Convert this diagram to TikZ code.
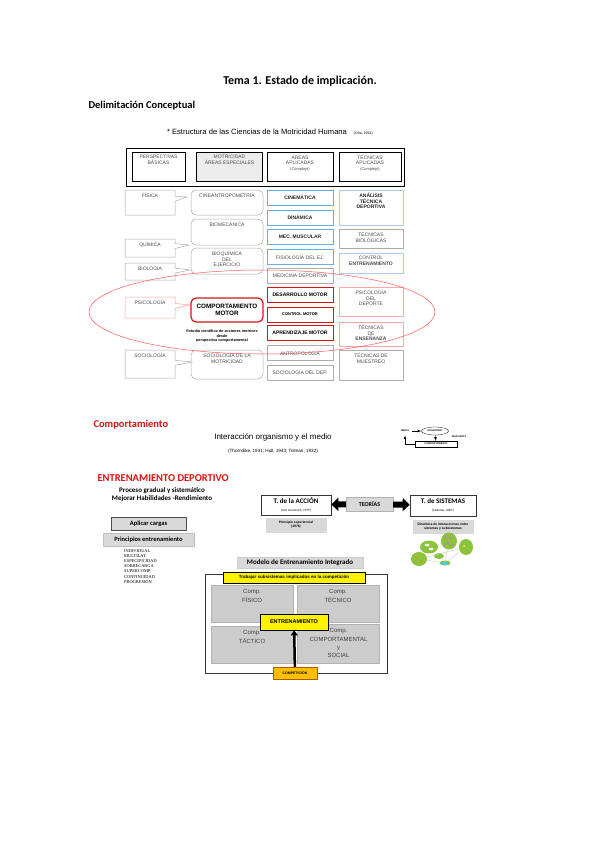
\documentclass[tikz,border=0pt]{standalone}
\usepackage{fontspec}
\setmainfont{Carlito}
\newfontfamily\arialf{Liberation Sans}
\newfontfamily\timesf{Liberation Serif}
\usepackage{tikz}
\usetikzlibrary{shapes,arrows,arrows.meta,positioning,calc}
\newcommand\celltxt{\arialf\fontsize{5}{5.8}\selectfont}
\newcommand\minitxt{\arialf\bfseries\fontsize{2.4}{3}\selectfont}
\definecolor{celeste}{RGB}{110,170,220}
\definecolor{rojo}{RGB}{215,20,20}
\definecolor{verde}{RGB}{140,195,60}
\definecolor{naranja}{RGB}{255,190,0}

\begin{document}
\begin{tikzpicture}[x=1pt, y=-1pt,
  cell/.style={draw=gray!65, line width=0.5pt, inner sep=0pt, font=\celltxt, text=black!70, align=center},
  topl/.style={label={[anchor=north, inner sep=0pt, yshift=-3pt, font=\celltxt, text=black!70, align=center]north:#1}},
  toplb/.style={label={[anchor=north, inner sep=0pt, yshift=-3pt, font=\celltxt\bfseries, text=black!85, align=center]north:#1}},
  qlab/.style={label={[anchor=north, inner sep=0pt, yshift=-5pt, font=\arialf\fontsize{6}{8.3}\selectfont, text=black!75, align=center]north:#1}},
  head/.style={draw=black, line width=0.7pt, inner sep=0pt, minimum height=29pt},
  persp/.style={rectangle callout, draw=gray!65, line width=0.5pt, inner sep=0pt, minimum width=50pt, callout pointer width=5pt},
  motr/.style={cell, rounded corners=5pt, minimum width=72pt},
  area/.style={cell, minimum width=66pt, minimum height=15pt},
  tec/.style={cell, minimum width=64pt},
  azul/.style={draw=celeste},
  roja/.style={draw=rojo, line width=0.8pt, text=black, font=\celltxt\bfseries},
  rosa/.style={draw=red!35},
  gris/.style={fill=gray!30, inner sep=0pt, align=center},
  teoria/.style={draw=black!80, line width=0.7pt, minimum height=20pt, inner sep=0pt, align=center, font=\bfseries\fontsize{7}{8}\selectfont},
  nota/.style={gris, minimum width=61pt, minimum height=14pt, font=\arialf\bfseries\fontsize{3.3}{4}\selectfont},
  blob/.style={ellipse, fill=verde, inner sep=0pt},
  quad/.style={fill=gray!40, draw=gray!60, line width=0.8pt, inner sep=0pt, minimum width=82pt},
  tit/.style={font=\bfseries\fontsize{10.5}{12}\selectfont, text=rojo}
]
\fill[white] (0,0) rectangle (599,848);
\useasboundingbox (0,0) rectangle (599,848);

% encabezados
\node[font=\bfseries\fontsize{12}{14}\selectfont] (tema) at (300,81) {Tema 1. Estado de implicación.};
\node[font=\bfseries\fontsize{10.5}{12}\selectfont, anchor=west] (delim) at (85,106) {Delimitación Conceptual};
\node[font=\arialf\fontsize{7.6}{9}\selectfont] (estr) at (257,132) {* Estructura de las Ciencias de la Motricidad Humana};
\node[font=\arialf\fontsize{3.5}{4}\selectfont, anchor=base west] (ona) at (estr.base east) {(Oña, 1994)};

% cabecera de la tabla
\node[draw, line width=0.9pt, minimum width=278pt, minimum height=38pt, inner sep=0pt] (cabecera) at (265,167) {};
\node[head, minimum width=53pt, topl={PERSPECTIVAS\\BÁSICAS}] (hpersp) at (158.5,166.5) {};
\node[head, fill=gray!15, minimum width=66pt, topl={MOTRICIDAD\\ÁREAS ESPECIALES}] (hmotr) at (229.5,166.5) {};
\node[head, minimum width=66pt, topl={ÁREAS\\APLICADAS\\{\fontsize{4}{5}\selectfont(Complejo)}}] (harea) at (300,166.5) {};
\node[head, minimum width=62pt, topl={TÉCNICAS\\APLICADAS\\{\fontsize{4}{5}\selectfont(Complejo)}}] (htec) at (370,166.5) {};

% perspectivas
\node[persp, minimum height=25pt, callout absolute pointer={(187,197)}, topl={FÍSICA}] (pfis) at (150,202.5) {};
\node[persp, minimum height=18pt, callout absolute pointer={(189,245)}, topl={QUÍMICA}] (pqui) at (150,248) {};
\node[persp, minimum height=17pt, callout absolute pointer={(190,270)}, topl={BIOLOGÍA}] (pbio) at (150,271.5) {};
\node[persp, draw=red!40, minimum height=21pt, callout absolute pointer={(190,305)}, topl={PSICOLOGÍA}] (ppsi) at (150,307.5) {};
\node[persp, minimum height=28pt, callout absolute pointer={(192,362)}, topl={SOCIOLOGÍA}] (psoc) at (150,364) {};

% motricidad
\node[motr, minimum height=25pt, topl={CINEANTROPOMETRÍA}] (cine) at (227,202.5) {};
\node[motr, minimum height=26pt, topl={BIOMECÁNICA}] (biomec) at (227,232) {};
\node[motr, minimum height=26pt, topl={BIOQUÍMICA\\DEL\\EJERCICIO}] (bioq) at (227,261) {};
\node[motr, roja, line width=1.2pt, minimum height=24pt, font=\arialf\bfseries\fontsize{6.3}{7.3}\selectfont] (compmot) at (227,310) {COMPORTAMIENTO\\MOTOR};
\node[font=\arialf\bfseries\fontsize{3.8}{4.6}\selectfont, align=center] (defcomp) at (222,336) {Estudio científico de acciones motrices\\desde\\perspectiva comportamental};
\node[motr, minimum height=29pt, topl={SOCIOLOGÍA DE LA\\MOTRICIDAD}] (socmot) at (227,364.5) {};

% areas aplicadas
\node[area, azul, font=\celltxt\bfseries, text=black!85] (cinem) at (300,197.5) {CINEMÁTICA};
\node[area, azul, font=\celltxt\bfseries, text=black!85] (dinam) at (300,217.5) {DINÁMICA};
\node[area, azul, font=\celltxt\bfseries, text=black!85] (mecmus) at (300,237) {MEC. MUSCULAR};
\node[area, azul] (fisio) at (300,257) {FISIOLOGÍA DEL EJ.};
\node[area] (medic) at (300,275.5) {MEDICINA DEPORTIVA};
\node[area, roja] (desarr) at (300,294.5) {DESARROLLO MOTOR};
\node[area, roja, font=\arialf\bfseries\fontsize{4}{5}\selectfont] (ctrlmot) at (300,314.5) {CONTROL MOTOR};
\node[area, roja] (aprend) at (300,332.5) {APRENDIZAJE MOTOR};
\node[area] (antrop) at (300,353) {ANTROPOLOGÍA};
\node[area] (socdep) at (300,372.5) {SOCIOLOGÍA DEL DEP.};

% tecnicas aplicadas
\node[tec, draw=celeste!60, minimum height=35pt, toplb={ANÁLISIS\\TÉCNICA\\DEPORTIVA}] (tanal) at (371,207.5) {};
\node[tec, minimum height=19pt, topl={TÉCNICAS\\BIOLÓGICAS}] (tbio) at (371,238.5) {};
\node[tec, draw=celeste!60, minimum height=20pt, topl={CONTROL\\{\bfseries ENTRENAMIENTO}}] (tctrl) at (371,263) {};
\node[tec, rosa, minimum height=29pt, topl={PSICOLOGÍA\\DEL\\DEPORTE}] (tpsi) at (371,301.5) {};
\node[tec, rosa, minimum height=24pt, topl={TÉCNICAS\\DE\\{\bfseries ENSEÑANZA}}] (tens) at (371,334) {};
\node[tec, minimum height=30pt, topl={TÉCNICAS DE\\MUESTREO}] (tmue) at (371,365) {};

\draw[red!65, line width=0.5pt] (262,312) ellipse [x radius=173, y radius=42];

% comportamiento
\node[tit, anchor=west] (comport) at (90,425) {Comportamiento};
\node[font=\arialf\fontsize{8}{9}\selectfont] (interac) at (273,437) {Interacción organismo y el medio};
\node[font=\arialf\fontsize{4.6}{5}\selectfont] (autores) at (273,451) {(Thorndike, 1931; Hull, 1943; Tolman, 1932)};
\node[font=\minitxt] (medio) at (405,431) {MEDIO};
\node[draw, ellipse, line width=0.3pt, minimum width=27pt, minimum height=8pt, inner sep=0pt, font=\minitxt] (organ) at (435,431) {ORGANISMO};
\node[draw, line width=0.3pt, minimum width=42pt, minimum height=6pt, inner sep=0pt, font=\minitxt] (conducta) at (436,444) {COMPORTAMIENTO};
\node[font=\minitxt] (resp) at (459,437) {RESPUESTA};
\draw[-latex, line width=0.3pt] (medio) -- (organ);
\draw[-latex, line width=0.3pt] (organ) -- (conducta);
\draw[-latex, line width=0.3pt] (conducta.west) -| (medio.south);

% entrenamiento deportivo
\node[tit, anchor=west] (entdep) at (94,478) {ENTRENAMIENTO DEPORTIVO};
\node[font=\bfseries\fontsize{7}{8}\selectfont, align=center] (proceso) at (162,495) {Proceso gradual y sistemático\\Mejorar Habilidades -Rendimiento};
\node[gris, draw=black!70, line width=0.7pt, minimum width=75pt, minimum height=13pt, font=\bfseries\fontsize{6.5}{8}\selectfont] (cargas) at (148.5,523.5) {Aplicar cargas};
\node[gris, draw=gray!50, minimum width=91pt, minimum height=13pt, font=\bfseries\fontsize{6.5}{8}\selectfont] (princ) at (148.5,539.5) {Principios entrenamiento};
\node[anchor=north west, align=left, inner sep=0pt, font=\timesf\fontsize{4.4}{5.2}\selectfont] (lista) at (124,549) {INDIVIDUAL\\MULTILAT.\\ESPECIFICIDAD\\SOBRECARGA\\SUPERCOMP.\\CONTINUIDAD\\PROGRESIÓN};

% teorias
\node[teoria, minimum width=70pt] (accion) at (296,505) {T. de la ACCIÓN\\{\fontsize{3.3}{4}\selectfont\mdseries (Von Aronovich, 1979)}};
\node[nota, minimum height=15pt, below=2pt of accion] (accnota) {Principio experiencial\\(1976)};
\node[gris, draw=gray!60, minimum width=47pt, minimum height=14pt, font=\bfseries\fontsize{6}{7}\selectfont] (teorias) at (369.5,504) {TEORÍAS};
\node[teoria, minimum width=66pt, minimum height=21pt] (sistemas) at (443,505.5) {T. de SISTEMAS\\{\fontsize{3.3}{4}\selectfont\mdseries (Cadenas, 2005)}};
\node[nota, below=3pt of sistemas] (sisnota) {Dinámica de interacciones entre\\sistemas y subsistemas};
\draw[line width=6pt, -{Triangle[length=7pt,width=13pt]}] (teorias) -- (accion);
\draw[line width=6pt, -{Triangle[length=7pt,width=13pt]}] (teorias) -- (sistemas);

% subsistemas
\node[blob, minimum width=18pt, minimum height=13pt] (g1) at (429,547) {};
\node[blob, minimum width=16pt, minimum height=17pt] (g2) at (449,541) {};
\node[blob, minimum width=14pt, minimum height=16pt] (g3) at (466,547) {};
\node[blob, minimum width=16pt, minimum height=14pt] (g4) at (419,559) {};
\node[blob, minimum width=10pt, minimum height=6pt] (g5) at (439,556) {};
\node[blob, minimum width=11pt, minimum height=5pt] (g6) at (445,563) {};
\draw[red!20!gray!35, line width=0.4pt] (g4) -- (g3) (g2) -- (g6) (g4) -- (g6) (g1) -- (g5) (g1) -- (g2) (g3) -- (g6);
\fill[white] (427,545) ellipse [x radius=2.5, y radius=1.3] (431,549) ellipse [x radius=2.5, y radius=1.3];
\fill[blue!40!purple!50] (446,537) circle (1.3) (451,538) circle (1.3) (448,543) circle (1.3) (452,545) circle (1.3) (445,545) circle (1.1);
\fill[yellow!80] (464,546) circle (1);
\fill[orange] (416,557) circle (1) (421,561) circle (1);
\fill[cyan!70] (442,561.5) rectangle (448,564.5);

% modelo integrado
\node[gris, draw=gray!40, minimum width=126pt, minimum height=11pt, font=\bfseries\fontsize{7}{8}\selectfont] (modelo) at (300,563) {Modelo de Entrenamiento Integrado};
\node[draw=black!80, line width=0.5pt, minimum width=182pt, minimum height=99pt, inner sep=0pt] (marco) at (296,623.5) {};
\node[quad, minimum height=37pt, qlab={Comp.\\FÍSICO}] (fisico) at (252,603.5) {};
\node[quad, minimum height=37pt, qlab={Comp.\\TÉCNICO}] (tecnico) at (338,603.5) {};
\node[quad, minimum height=37pt, qlab={Comp.\\TÁCTICO}] (tactico) at (252,644.5) {};
\node[quad, minimum height=39pt, qlab={Comp.\\COMPORTAMENTAL\\y\\SOCIAL}] (compsoc) at (338.5,643.5) {};
\node[draw=black, fill=yellow, line width=0.6pt, minimum width=142pt, minimum height=11pt, inner sep=0pt, font=\arialf\bfseries\fontsize{4.5}{5}\selectfont] (trabajar) at (294,577.5) {Trabajar subsistemas implicados en la competición};
\node[draw=black, fill=yellow, line width=0.8pt, minimum width=68pt, minimum height=16pt, inner sep=0pt, font=\arialf\bfseries\fontsize{5.5}{6}\selectfont] (entren) at (294,622) {ENTRENAMIENTO};
\node[draw=orange!70!black, fill=naranja, minimum width=44pt, minimum height=12pt, inner sep=0pt, font=\arialf\bfseries\fontsize{3.5}{4}\selectfont] (compet) at (295,673) {COMPETICIÓN};
\draw[line width=2.5pt, -{Triangle[length=5pt,width=7pt]}] (compet) -- (entren);
\end{tikzpicture}
\end{document}
